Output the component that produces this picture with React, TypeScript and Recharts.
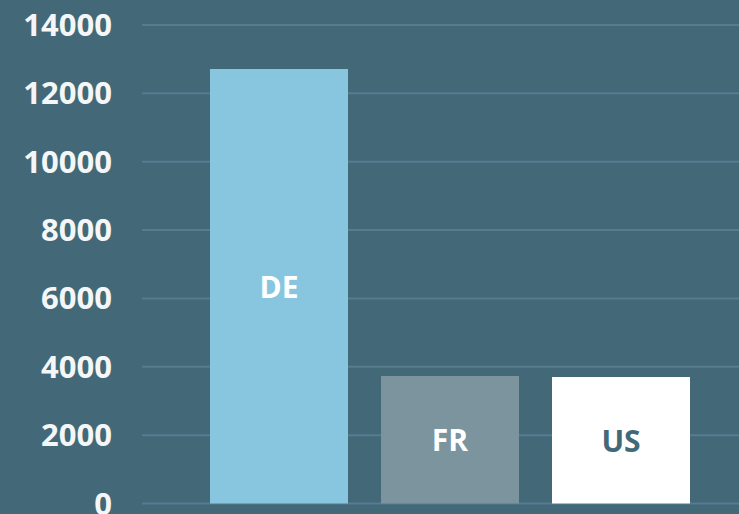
import React from 'react';
import { BarChart, Bar, XAxis, YAxis, CartesianGrid, Cell, LabelList } from 'recharts';

const COUNTRIES = ['DE', 'FR', 'US'];
const VALUES = [12710, 3730, 3700];
const BAR_COLORS = ['#88c6e0', '#7b949d', '#ffffff'];
const LABEL_COLORS = ['#ffffff', '#ffffff', '#436978'];
const Y_TICKS = [0, 2000, 4000, 6000, 8000, 10000, 12000, 14000];

const data = COUNTRIES.map((name, i) => ({ name, value: VALUES[i] }));

const BG = '#436978';
const FONT = '"Open Sans", sans-serif';

const BarLabel = (props: any) => {
  const { x, y, width, height, value, index } = props;
  return (
    <text
      x={x + width / 2}
      y={y + height / 2}
      textAnchor="middle"
      dominantBaseline="central"
      fill={LABEL_COLORS[index]}
      style={{ fontFamily: FONT, fontSize: 30, fontWeight: 700 }}
    >
      {value}
    </text>
  );
};

export default function App() {
  return (
    <div style={{ position: 'fixed', left: 0, top: 0, width: 739, height: 514, background: BG, overflow: 'hidden' }}>
      <BarChart
        width={739}
        height={514}
        data={data}
        margin={{ top: 25, right: 0, left: 0, bottom: 10.5 }}
      >
        <CartesianGrid vertical={false} stroke="#557d8f" strokeWidth={2} />
        <XAxis dataKey="name" hide padding={{ left: 51, right: 33 }} />
        <YAxis
          width={142}
          domain={[0, 14000]}
          ticks={Y_TICKS}
          axisLine={false}
          tickLine={false}
          tickSize={0}
          tickMargin={30}
          interval={0}
          tick={{ fill: '#f4f6f7', fontSize: 31, fontWeight: 700, fontFamily: FONT }}
        />
        <Bar dataKey="value" barSize={138} isAnimationActive={false}>
          {data.map((entry, index) => (
            <Cell key={`cell-${index}`} fill={BAR_COLORS[index]} />
          ))}
          <LabelList dataKey="name" content={<BarLabel />} />
        </Bar>
      </BarChart>
    </div>
  );
}
